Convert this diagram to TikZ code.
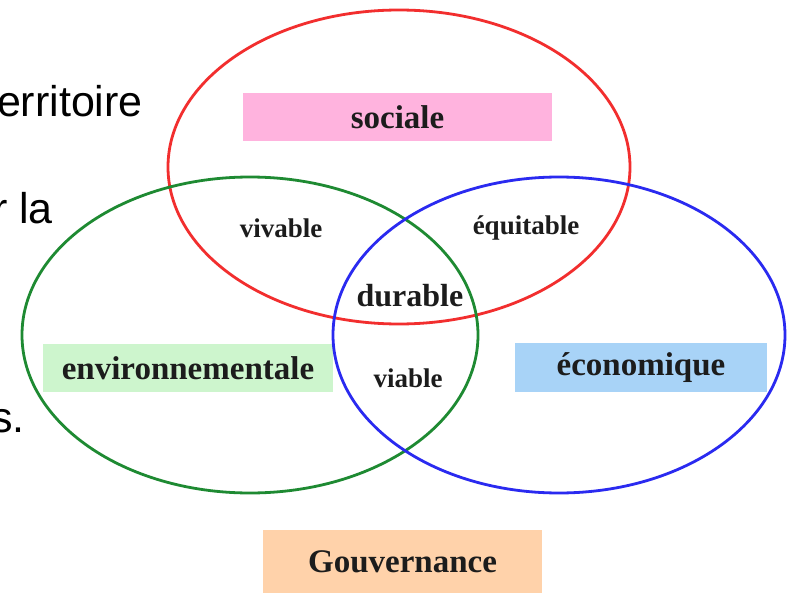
\documentclass[tikz,border=0pt]{standalone}
\usepackage{fontspec}
\setmainfont{Liberation Serif}
\newfontfamily\arialfont{Liberation Sans}
\definecolor{cred}{HTML}{F22E2E}
\definecolor{cgreen}{HTML}{1E8A32}
\definecolor{cblue}{HTML}{2A2AF0}
\definecolor{fpink}{HTML}{FFB3DE}
\definecolor{fgreen}{HTML}{CDF5CD}
\definecolor{fblue}{HTML}{A8D3F7}
\definecolor{forange}{HTML}{FFD2AA}
\definecolor{ink}{HTML}{1C1C1C}
\tikzset{
  ring/.style={line width=2.8pt},
  labelbox/.style={inner sep=0pt, text=ink, font=\bfseries\fontsize{33}{36}\selectfont},
  inlabel/.style={inner sep=0pt, text=ink, font=\bfseries\fontsize{27}{30}\selectfont},
  sidetext/.style={inner sep=0pt, anchor=base east, text=black, font=\arialfont\fontsize{43}{48}\selectfont}
}
\begin{document}
\begin{tikzpicture}[x=1pt,y=-1pt]
\useasboundingbox (0,0) rectangle (787,596);
\fill[white] (0,0) rectangle (787,596);
% side text fragments
\node[sidetext] (t1) at (143,117) {erritoire};
\node[sidetext] (t2) at (53,223) {r la};
\node[sidetext] (t3) at (25,432) {s.};
% coloured boxes
\node[labelbox, fill=fpink, minimum width=309pt, minimum height=48pt] (soc) at (397.5,117) {sociale};
\node[labelbox, fill=fgreen, minimum width=290pt, minimum height=48pt] (env) at (188,368) {environnementale};
\node[labelbox, fill=fblue, minimum width=252pt, minimum height=49pt] (eco) at (641,367.5) {économique};
\node[labelbox, fill=forange, minimum width=279pt, minimum height=63pt] (gov) at (402.5,561.5) {Gouvernance};
% ellipses
\draw[ring, cred] (399,167) ellipse [x radius=231, y radius=157];
\draw[ring, cgreen] (250,335) ellipse [x radius=228, y radius=158];
\draw[ring, cblue] (559,335) ellipse [x radius=226, y radius=158];
% intersection labels
\node[inlabel] (viv) at (281,228) {vivable};
\node[inlabel] (equ) at (526,228) {équitable};
\node[inlabel, font=\bfseries\fontsize{32}{34}\selectfont] (dur) at (410,296) {durable};
\node[inlabel] (via) at (408,378) {viable};
\end{tikzpicture}
\end{document}
